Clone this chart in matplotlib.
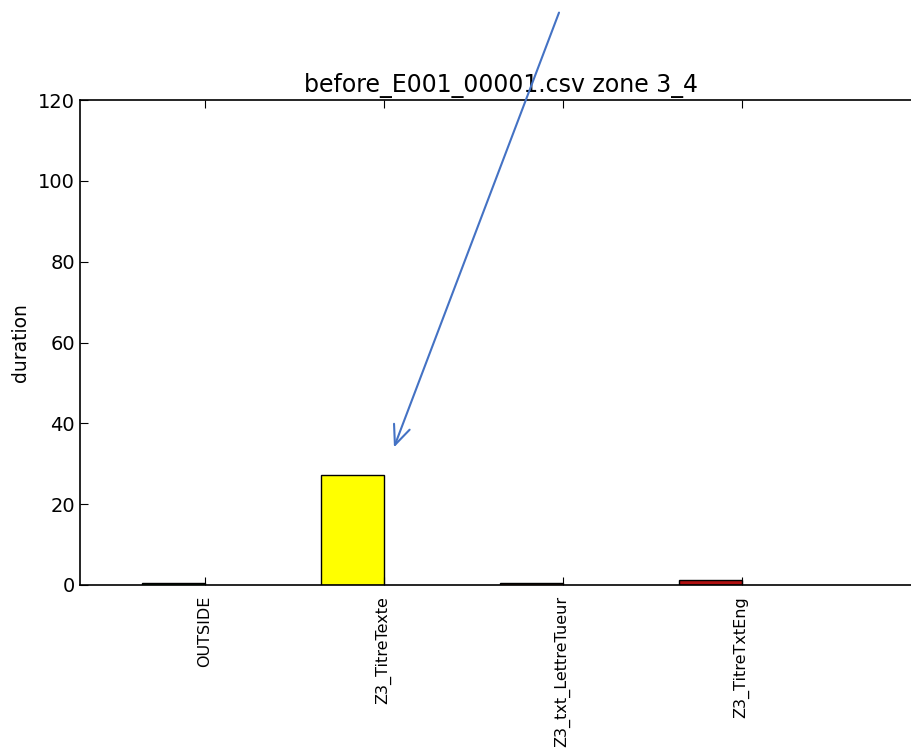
import matplotlib
matplotlib.use("Agg")
import matplotlib.pyplot as plt
import numpy as np

zones = ['OUTSIDE', 'Z3_TitreTexte', 'Z3_txt_LettreTueur', 'Z3_TitreTxtEng']
durees = [0.6, 27.2, 0.6, 1.2]
couleurs = ['darkgreen', 'yellow', 'saddlebrown', '#b01010']

largeur = 0.35
x = np.arange(len(zones))

fig = plt.figure(figsize=(9.12, 7.49), dpi=100)
ax = fig.add_axes([80 / 912, 1 - 585 / 749, 842 / 912, 485 / 749])

ax.bar(x, durees, width=largeur, align='edge', color=couleurs, edgecolor='black', linewidth=1)

ax.set_xlim(-0.346, -0.346 + 842 / 179)
ax.set_ylim(0, 120)
ax.set_yticks([0, 20, 40, 60, 80, 100, 120])
ax.set_xticks(x + largeur)
ax.set_xticklabels(zones, rotation=90, fontsize=11.5)
ax.tick_params(axis='y', labelsize=14, direction='in', right=True, length=6)
ax.tick_params(axis='x', direction='in', top=True, length=6, pad=8)
ax.set_ylabel('duration', fontsize=13.5, labelpad=6)
ax.set_title('before_E001_00001.csv zone 3_4', fontsize=17)
for s in ax.spines.values():
    s.set_linewidth(1.2)

# la fleche
fig.add_artist(matplotlib.patches.FancyArrowPatch(
    (560 / 912, 1 - 10 / 749), (393 / 912, 1 - 450 / 749),
    transform=fig.transFigure, arrowstyle='->,head_length=14,head_width=6',
    color='#4472c4', linewidth=1.5))

fig.savefig('out.png', dpi=100)
